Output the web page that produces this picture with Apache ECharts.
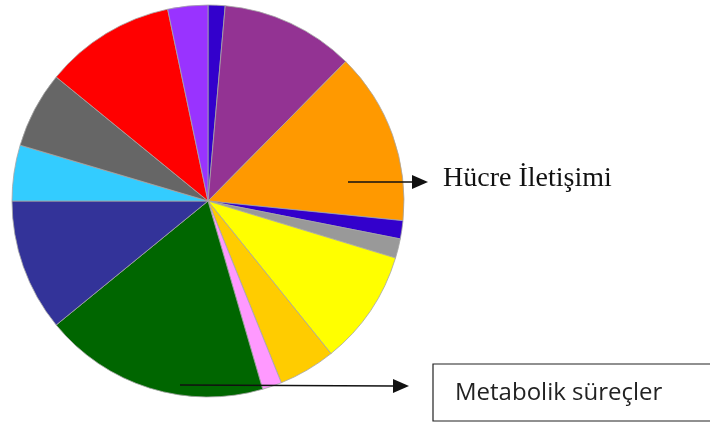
<!DOCTYPE html>
<html>
<head>
<meta charset="utf-8">
<script src="https://cdn.jsdelivr.net/npm/echarts@6/dist/echarts.min.js"></script>
<style>
  html, body { margin: 0; padding: 0; background: #fff; }
  #chart { width: 710px; height: 423px; }
</style>
</head>
<body>
<div id="chart"></div>
<script>
// dilimler, saat yönünde tepeden başlayarak (%)
const sliceNames = ['d1', 'd2', 'd3', 'd4', 'd5', 'd6', 'd7', 'd8', 'd9', 'd10', 'd11', 'd12', 'd13', 'd14'];
const sliceValues = [1.4, 11.0, 14.2, 1.5, 1.6, 9.5, 4.7, 1.6, 18.6, 10.9, 4.6, 6.3, 10.8, 3.3];
const sliceColors = ['#3300cc', '#933393', '#ff9900', '#3300cc', '#999999', '#ffff00', '#ffcc00',
  '#ff99ff', '#006600', '#333399', '#33ccff', '#666666', '#ff0000', '#9933ff'];
const labelTexts = ['Hücre İletişimi', 'Metabolik süreçler'];

// başlat
const myChart = echarts.init(document.getElementById('chart'));

const arrow = (x1, y1, x2, y2) => {
    const len = 16, half = 7;
    const ang = Math.atan2(y2 - y1, x2 - x1);
    const bx = x2 - len * Math.cos(ang), by = y2 - len * Math.sin(ang);
    const px = -Math.sin(ang) * half, py = Math.cos(ang) * half;
    return [
        { type: 'line', z: 100, shape: { x1: x1, y1: y1, x2: bx, y2: by }, style: { stroke: '#111', lineWidth: 1.6 } },
        { type: 'polygon', z: 100, shape: { points: [[x2, y2], [bx + px, by + py], [bx - px, by - py]] }, style: { fill: '#111' } }
    ];
};

const option = {
    backgroundColor: '#fff',
    animation: false,
    series: [{
        type: 'pie',
        center: [208, 201],
        radius: 196,
        startAngle: 90,
        clockwise: true,
        label: { show: false },
        labelLine: { show: false },
        emphasis: { disabled: true },
        itemStyle: { borderColor: '#a6a6a6', borderWidth: 0.8 },
        data: sliceValues.map((v, i) => ({ name: sliceNames[i], value: v, itemStyle: { color: sliceColors[i] } }))
    }],
    graphic: [
        ...arrow(348, 182, 428, 182),
        ...arrow(180, 385, 409, 386),
        {
            type: 'text', z: 100, left: 443, top: 165,
            style: { text: labelTexts[0], font: '28px "Liberation Serif"', fill: '#111' }
        },
        {
            type: 'rect', z: 100, shape: { x: 433, y: 364, width: 290, height: 57 },
            style: { fill: '#fff', stroke: '#222', lineWidth: 1.2 }
        },
        {
            type: 'text', z: 101, left: 455, top: 381,
            style: { text: labelTexts[1], font: '24px "Open Sans"', fill: '#222' }
        }
    ]
};

myChart.setOption(option);
</script>
</body>
</html>
